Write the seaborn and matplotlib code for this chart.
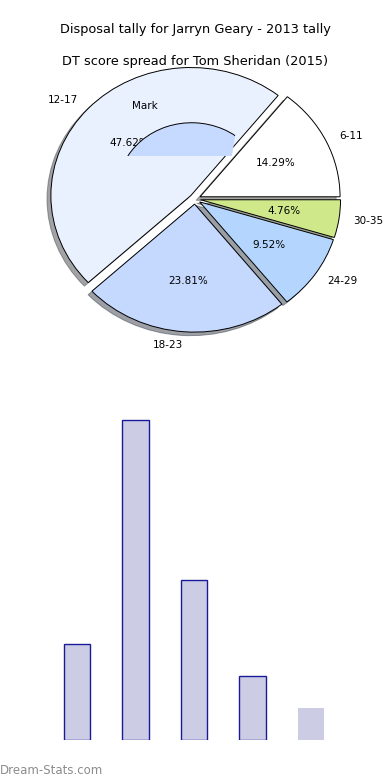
import matplotlib
matplotlib.use("Agg")
import matplotlib.pyplot as plt
import seaborn as sns
from matplotlib.path import Path

# data
age_groups = ["6-11", "12-17", "18-23", "24-29", "30-35"]
counts = [3, 10, 5, 2, 1]
pie_colors = ["#ffffff", "#eaf1fe", "#c5d8fe", "#b4d6fe", "#cfe98a"]
mark_labels = ["Mark", ""]
mark_values = [180, 180]

sns.set_style("white")
plt.rcParams["font.family"] = ["DejaVu Sans"]
plt.rcParams["text.color"] = "black"

fig = plt.figure(figsize=(3.9, 7.8), dpi=100)

fig.text(0.5, 1 - 30 / 780, "Disposal tally for Jarryn Geary - 2013 tally",
         ha="center", va="center", fontsize=9.3)
fig.text(0.5, 1 - 61 / 780, "DT score spread for Tom Sheridan (2015)",
         ha="center", va="center", fontsize=9.3)

# pie
ax = fig.add_axes([20 / 390, 1 - 359 / 780, 350 / 390, 320 / 780])
wedges, texts, autotexts = ax.pie(
    counts, labels=age_groups, colors=pie_colors, explode=[0.04] * 5,
    autopct="%.2f%%", shadow=True,
    wedgeprops=dict(edgecolor="black", linewidth=0.7),
    textprops=dict(fontsize=7.5, color="black"))

# the stray "Mark" slice sitting on top, cut off below and on the right
mw, mt = ax.pie(
    mark_values, labels=mark_labels, radius=0.53, startangle=20,
    explode=[0.07, 0], colors=["#c6d9fe", "none"], labeldistance=1.32,
    wedgeprops=dict(edgecolor="black", linewidth=0.7),
    textprops=dict(fontsize=7.5, color="black"))
mw[1].set_visible(False)
clip = Path([(-1.2, 0.336), (0.264, 0.336), (0.302, 0.6), (0.34, 1.2),
             (-1.2, 1.2), (-1.2, 0.336)], closed=True)
mw[0].set_clip_on(True)
mw[0].set_clip_path(clip, ax.transData)
mw[0].set_zorder(4)

ax.set_aspect("auto")
ax.set_xlim(-1.25, 1.25)
ax.set_ylim(-1.25, 1.25)

# bars
ax2 = fig.add_axes([18.5 / 390, 40 / 780, 351 / 390, 352 / 780])
sns.barplot(x=age_groups, y=counts, color="#cccce4", saturation=1, width=0.46,
            edgecolor="#1a1a99", linewidth=1.0, ax=ax2)
ax2.patches[-1].set_edgecolor("none")
ax2.set_xlim(-1, 5)
ax2.set_ylim(0, 11)
ax2.axis("off")

fig.text(0.0, 1 - 770 / 780, "Dream-Stats.com", color="#8c8c8c",
         fontsize=8.5, ha="left", va="center")

fig.savefig("out.png", dpi=100)
